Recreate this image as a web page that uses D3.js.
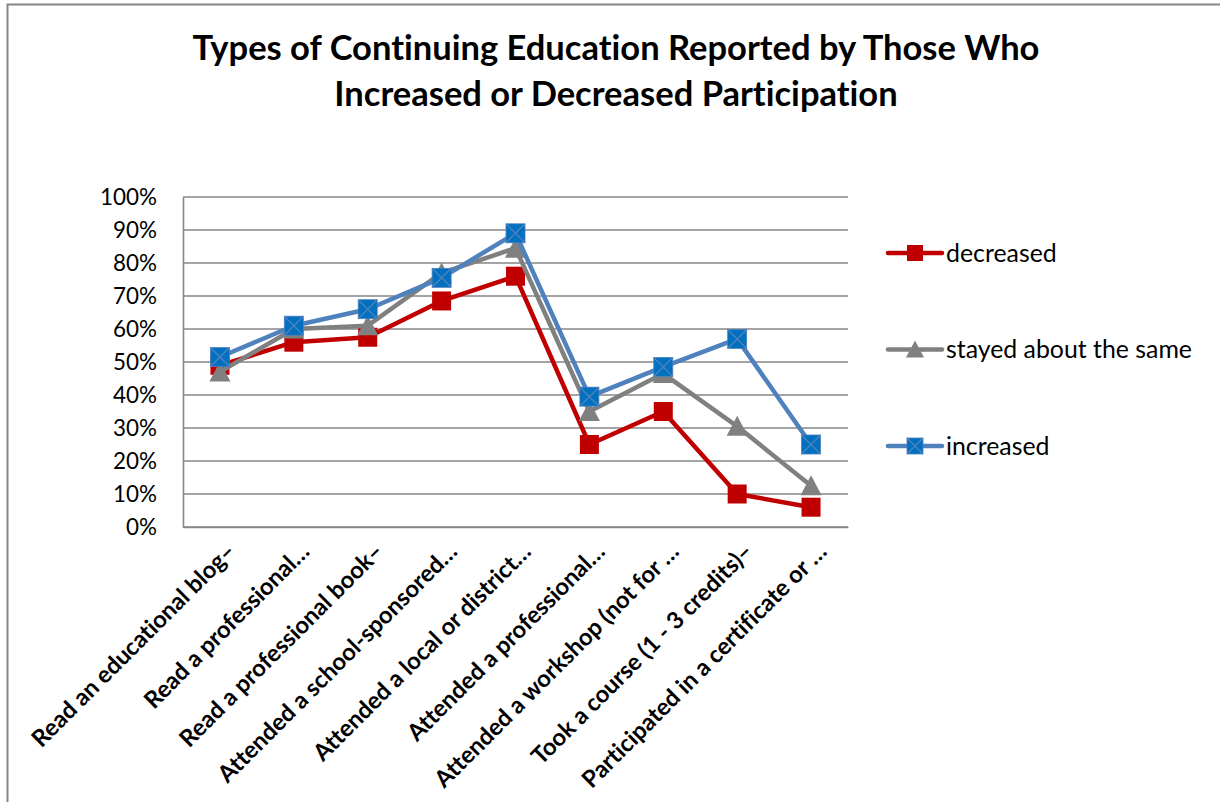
<!DOCTYPE html>
<html>
<head>
<meta charset="utf-8">
<script src="https://cdnjs.cloudflare.com/ajax/libs/d3/7.8.5/d3.min.js"></script>
<style>
  html, body { margin: 0; padding: 0; background: #fff; }
  svg { display: block; font-variant-ligatures: none; }
</style>
</head>
<body>
<svg id="chart" width="1220" height="802"></svg>
<script>
// Continuing-education activity shares, by change in participation
const categories = [
  "Read an educational blog–",
  "Read a professional…",
  "Read a professional book–",
  "Attended a school-sponsored…",
  "Attended a local or district…",
  "Attended a professional…",
  "Attended a workshop (not for …",
  "Took a course (1 - 3 credits)–",
  "Participated in a certificate or …"
];
const seriesNames = ["decreased", "stayed about the same", "increased"];
const decreased = [49, 56, 57.5, 68.5, 76, 25, 35, 10, 6];
const stayedSame = [47, 60, 61, 77, 84.5, 35, 46.5, 30.5, 12.5];
const increased = [51.5, 61, 66, 75.5, 89, 39.5, 48.5, 57, 25];
const yTicks = [0, 10, 20, 30, 40, 50, 60, 70, 80, 90, 100];
const titleLines = ["Types of Continuing Education Reported by Those Who",
                    "Increased or Decreased Participation"];

const series = [
  { name: seriesNames[0], values: decreased, line: "#C00000", fill: "#C00000", marker: "square" },
  { name: seriesNames[1], values: stayedSame, line: "#808080", fill: "#808080", marker: "triangle" },
  { name: seriesNames[2], values: increased, line: "#4F81BD", fill: "#0070C0", marker: "xsquare" }
];

const FONT = "Lato, 'Open Sans', sans-serif";
const svg = d3.select("#chart");

// scale the font size of `sel` so that the summed length of `ref` equals `total`
function fitTotal(sel, total, ref) {
  let sum = 0;
  (ref || sel).each(function () { sum += this.getComputedTextLength(); });
  if (sum > 0) {
    sel.each(function () {
      const fs = parseFloat(this.getAttribute("font-size"));
      this.setAttribute("font-size", (fs * total / sum).toFixed(2));
    });
  }
}

// chart frame
svg.append("rect")
  .attr("x", 7.5).attr("y", 4.5)
  .attr("width", 1240).attr("height", 820)
  .attr("fill", "#fff").attr("stroke", "#868686").attr("stroke-width", 2);

const plot = { left: 183, right: 848, top: 197, bottom: 527 };

const x = d3.scaleBand().domain(categories).range([plot.left, plot.right]);
const y = d3.scaleLinear().domain([0, 100]).range([plot.bottom, plot.top]);

// title
const title = svg.append("g").selectAll("text").data(titleLines).join("text")
  .attr("x", 616).attr("y", (d, i) => 60 + i * 46)
  .attr("text-anchor", "middle")
  .attr("font-family", FONT).attr("font-weight", "bold").attr("font-size", 30)
  .attr("fill", "#000")
  .text(d => d);
fitTotal(title, 847, title.filter((d, i) => i === 0));

// horizontal gridlines
svg.append("g").selectAll("line").data(yTicks).join("line")
  .attr("x1", plot.left).attr("x2", plot.right)
  .attr("y1", d => y(d)).attr("y2", d => y(d))
  .attr("stroke", "#868686").attr("stroke-width", 1.6);

// y axis
const yAxis = svg.append("g")
  .attr("transform", `translate(${plot.left},0)`)
  .call(d3.axisLeft(y).tickValues(yTicks).tickFormat(d => d + "%").tickSize(0).tickPadding(26));
yAxis.select(".domain").attr("stroke", "#868686").attr("stroke-width", 1.6);
const yLabels = yAxis.selectAll("text")
  .attr("font-family", FONT).attr("font-size", 20).attr("fill", "#000");
fitTotal(yLabels, 57, yLabels.filter(d => d === 100));

// x axis: category labels at -45°
const xAxis = svg.append("g")
  .attr("transform", `translate(0,${plot.bottom})`)
  .call(d3.axisBottom(x).tickSize(0).tickFormat(d => d));
xAxis.select(".domain").attr("stroke", "#868686").attr("stroke-width", 1.6);
const xLabels = xAxis.selectAll(".tick text")
  .attr("font-family", FONT).attr("font-weight", "bold").attr("font-size", 24)
  .attr("fill", "#000")
  .attr("text-anchor", "end")
  .attr("transform", "translate(12,21) rotate(-45)")
  .attr("x", 0).attr("y", 0).attr("dy", "0.3em");
// size the labels by the three longest ones so none runs past the bottom edge
fitTotal(xLabels, 995, xLabels.filter((d, i) => i === 3 || i === 6 || i === 8));

// markers
function drawMarker(g, type, fill, size) {
  const h = size / 2;
  if (type === "square") {
    g.append("rect").attr("x", -h).attr("y", -h).attr("width", size).attr("height", size)
      .attr("fill", fill);
  } else if (type === "triangle") {
    g.append("path")
      .attr("d", `M0,${-h - 1}L${h + 1},${h}L${-h - 1},${h}Z`)
      .attr("fill", fill);
  } else {
    g.append("rect").attr("x", -h).attr("y", -h).attr("width", size).attr("height", size)
      .attr("fill", fill).attr("stroke", "#4F81BD").attr("stroke-width", 0.8);
    g.append("path")
      .attr("d", `M${-h},${-h}L${h},${h}M${h},${-h}L${-h},${h}`)
      .attr("stroke", "#4F81BD").attr("stroke-width", 1.4);
  }
}

const line = d3.line()
  .x((d, i) => x(categories[i]) + x.bandwidth() / 2)
  .y(d => y(d));

series.forEach(s => {
  const g = svg.append("g");
  g.append("path").datum(s.values)
    .attr("d", line).attr("fill", "none")
    .attr("stroke", s.line).attr("stroke-width", 4.5)
    .attr("stroke-linejoin", "round");
  s.values.forEach((v, i) => {
    const m = g.append("g")
      .attr("transform", `translate(${x(categories[i]) + x.bandwidth() / 2},${y(v)})`);
    drawMarker(m, s.marker, s.fill, 19);
  });
});

// legend
const legend = svg.append("g");
series.forEach((s, i) => {
  const ly = 253 + i * 96.5;
  const g = legend.append("g").attr("class", "legend-item").attr("transform", `translate(0,${ly})`);
  g.append("line").attr("x1", 888).attr("x2", 942).attr("y1", 0).attr("y2", 0)
    .attr("stroke", s.line).attr("stroke-width", 4.5).attr("stroke-linecap", "round");
  const m = g.append("g").attr("transform", "translate(915,0)");
  drawMarker(m, s.marker, s.fill, 16);
  g.append("text").attr("x", 946).attr("y", 0).attr("dy", "0.35em")
    .attr("font-family", FONT).attr("font-size", 20).attr("fill", "#000")
    .text(s.name);
});
const legendTexts = legend.selectAll("text");
fitTotal(legendTexts, 246, legendTexts.filter((d, i) => i === 1));
</script>
</body>
</html>
